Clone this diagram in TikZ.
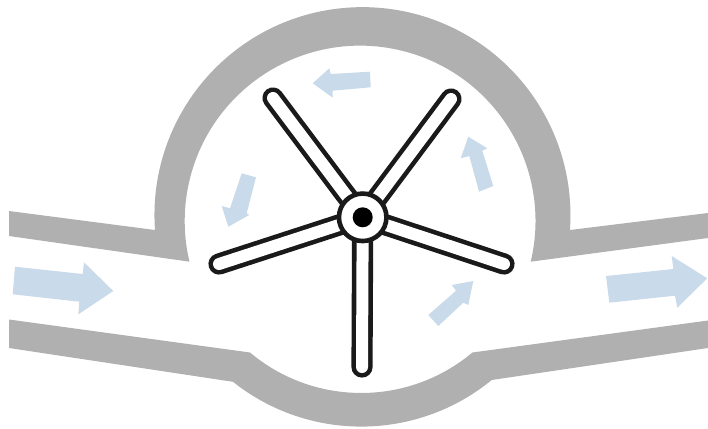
\documentclass[tikz,border=0pt]{standalone}
\usepackage{tikz}
\definecolor{wallgray}{HTML}{B0B0B0}
\definecolor{flowblue}{HTML}{C9DBEA}
\definecolor{bladeblack}{HTML}{1A1A1A}

\begin{document}
\begin{tikzpicture}[x=1pt,y=-1pt]
  \tikzstyle{wall}=[fill=wallgray,draw=none]
  \tikzstyle{flow}=[fill=flowblue,draw=none]
  \tikzstyle{blade}=[draw=bladeblack,line width=4.6pt,double=white,double distance=12pt,line cap=round]
  \tikzstyle{hub}=[circle,draw=bladeblack,fill=white,line width=4.6pt,minimum size=47.5pt,inner sep=0pt]
  \tikzstyle{axle}=[circle,fill=black,minimum size=20pt,inner sep=0pt]
  \useasboundingbox (0,0) rectangle (708,428);
  % casing
  \fill[wall] (9,211) -- (155,230) arc[start angle=175.9,end angle=364.1,radius=208] -- (708,213)
    -- (708,238) -- (530.7,261.7) arc[start angle=13.4,end angle=-193.4,radius=175.4] -- (9,236) -- cycle;
  \fill[wall] (9,319.5) -- (250,352.5) arc[start angle=130,end angle=50,radius=173] -- (708,320.5)
    -- (708,348) -- (491.7,380) arc[start angle=50.7,end angle=128.5,radius=206] -- (9,348) -- cycle;
  % flow arrows
  \fill[flow] (15,266.7) -- (82.7,274) -- (84,262.3) -- (113.3,291) -- (78.3,314.3) -- (79.3,301.7) -- (12.7,294.3) -- cycle;
  \fill[flow] (606,276) -- (673.3,269) -- (671.7,256) -- (707.3,278.3) -- (677.3,307.7) -- (675,295.7) -- (609.3,302.7) -- cycle;
  \fill[flow] (468.3,136.7) -- (487.3,148.3) -- (482.3,150.7) -- (493.3,186) -- (479,191.7) -- (469.3,156) -- (460.7,158.3) -- cycle;
  \fill[flow] (241.7,173.3) -- (256,177.3) -- (246.7,213.3) -- (249.3,215) -- (228.3,226.7) -- (221.7,206) -- (230,208.3) -- cycle;
  \fill[flow] (428.3,315) -- (438.3,326) -- (463.3,302.7) -- (468.3,305) -- (473.3,281) -- (451.7,285) -- (456,290.7) -- cycle;
  \fill[flow] (312.7,83.3) -- (329.3,68.3) -- (330.7,74) -- (370,71.7) -- (370.7,87.3) -- (332.7,90.7) -- (332.7,97.7) -- cycle;
  % impeller
  \coordinate (centre) at (362.7,217.3);
  \coordinate (tipa) at (273,98);
  \coordinate (tipb) at (451,99);
  \coordinate (tipc) at (504,264);
  \coordinate (tipd) at (362,367);
  \coordinate (tipe) at (219,264);
  \draw[blade] (centre) -- (tipa);
  \draw[blade] (centre) -- (tipb);
  \draw[blade] (centre) -- (tipc);
  \draw[blade] (centre) -- (tipd);
  \draw[blade] (centre) -- (tipe);
  \node[hub] (hub) at (centre) {};
  \node[axle] (axle) at (centre) {};
\end{tikzpicture}
\end{document}
